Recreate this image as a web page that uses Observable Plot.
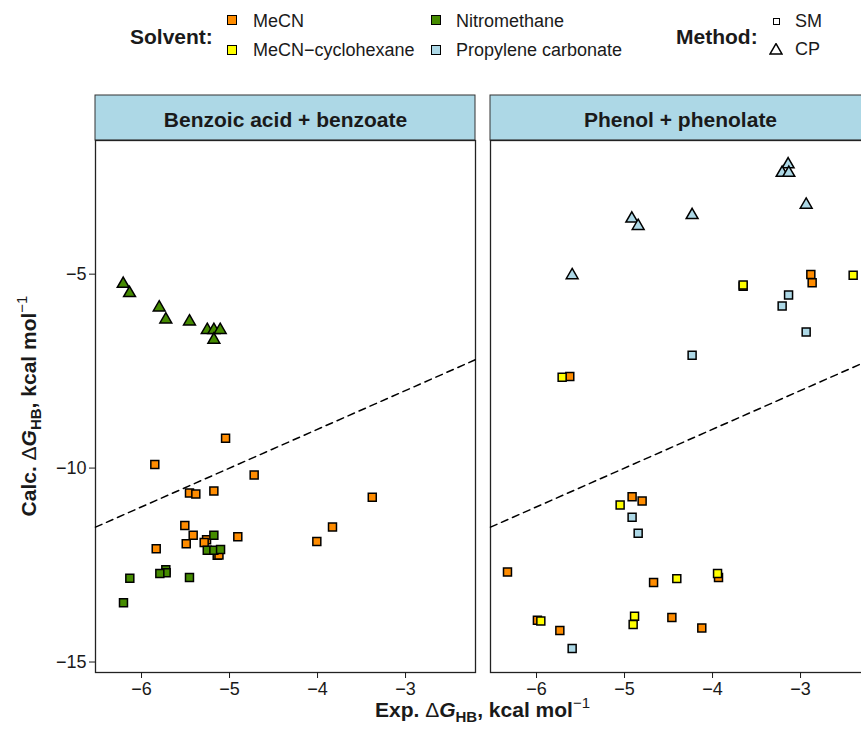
<!DOCTYPE html>
<html><head><meta charset="utf-8">
<script src="https://cdn.jsdelivr.net/npm/d3@7"></script>
<script src="https://cdn.jsdelivr.net/npm/@observablehq/plot@0.6"></script>
<style>
html,body{margin:0;padding:0;overflow:hidden;background:#fff;}
#fig{position:relative;width:873px;font-family:"Liberation Sans",Arial,Helvetica,sans-serif;color:#1a1a1a;}
#legend{position:relative;height:80px;}
.lt{position:absolute;font-size:21px;font-weight:bold;line-height:1;white-space:nowrap;}
.ll{position:absolute;font-size:18px;line-height:1;white-space:nowrap;}
.key{position:absolute;box-sizing:border-box;border:1.5px solid #000;width:10px;height:10px;}
.okey{position:absolute;box-sizing:border-box;border:1.5px solid #000;width:7px;height:7px;background:#fff;}
</style></head><body>
<div id="fig"><div id="legend"></div><div id="chart"></div></div>
<script>
// ---- data ----
const panels = ["Benzoic acid + benzoate", "Phenol + phenolate"];
const solvents = ["MeCN", "MeCN\u2212cyclohexane", "Nitromethane", "Propylene carbonate"];
const solventColors = ["#FF8C00", "#FFFF00", "#458B00", "#ADD8E6"];
const methods = ["SM", "CP"];
const xTicks = [-6, -5, -4, -3];
const yTicks = [-15, -10, -5];
const refSlope = 1, refIntercept = -5;

// [exp, calc] pairs
const benzoicMeCN_SM = [[-5.045,-9.23],[-5.849,-9.91],[-4.72,-10.18],[-5.455,-10.64],[-5.383,-10.67],[-5.178,-10.59],[-3.378,-10.75],[-5.508,-11.48],[-3.83,-11.52],[-5.413,-11.73],[-4.906,-11.77],[-5.261,-11.85],[-5.288,-11.92],[-5.492,-11.95],[-4.008,-11.89],[-5.833,-12.08],[-5.14,-12.25],[-5.12,-12.24]];
const benzoicNitro_SM = [[-5.178,-11.73],[-5.253,-12.12],[-5.178,-12.12],[-5.102,-12.10],[-5.724,-12.62],[-5.72,-12.70],[-5.792,-12.72],[-6.133,-12.84],[-5.455,-12.82],[-6.205,-13.47]];
const benzoicNitro_CP = [[-6.208,-5.25],[-6.136,-5.49],[-5.799,-5.86],[-5.724,-6.17],[-5.455,-6.22],[-5.253,-6.44],[-5.178,-6.44],[-5.106,-6.44],[-5.178,-6.69]];
const phenolMeCN_SM = [[-2.883,-5.01],[-2.868,-5.22],[-3.652,-5.31],[-5.622,-7.64],[-4.914,-10.74],[-4.80,-10.85],[-6.33,-12.68],[-4.67,-12.95],[-3.932,-12.82],[-4.462,-13.85],[-4.122,-14.12],[-5.99,-13.92],[-5.735,-14.19]];
const phenolCyclo_SM = [[-2.402,-5.03],[-3.652,-5.28],[-5.709,-7.66],[-5.05,-10.95],[-4.406,-12.85],[-3.943,-12.72],[-4.886,-13.82],[-4.902,-14.03],[-5.951,-13.94]];
const phenolPC_SM = [[-3.136,-5.54],[-3.209,-5.82],[-2.936,-6.49],[-4.232,-7.09],[-4.914,-11.27],[-4.845,-11.68],[-5.595,-14.65]];
const phenolPC_CP = [[-3.141,-2.17],[-3.209,-2.39],[-3.133,-2.39],[-2.936,-3.21],[-4.917,-3.57],[-4.845,-3.76],[-4.232,-3.48],[-5.595,-5.03]];

const xDomain = [-6.523, -2.205];
const yDomain = [-15.27, -1.554];

// ---- build table ----
function rowsOf(arr, panel, solvent, method) {
  return arr.map(([exp, calc]) => ({panel, solvent, method, exp, calc}));
}
const rows = [
  ...rowsOf(benzoicMeCN_SM, panels[0], solvents[0], methods[0]),
  ...rowsOf(benzoicNitro_SM, panels[0], solvents[2], methods[0]),
  ...rowsOf(benzoicNitro_CP, panels[0], solvents[2], methods[1]),
  ...rowsOf(phenolMeCN_SM, panels[1], solvents[0], methods[0]),
  ...rowsOf(phenolCyclo_SM, panels[1], solvents[1], methods[0]),
  ...rowsOf(phenolPC_SM, panels[1], solvents[3], methods[0]),
  ...rowsOf(phenolPC_CP, panels[1], solvents[3], methods[1])
];
const refLine = panels.flatMap(p => xDomain.map(x => ({panel: p, x, y: refSlope * x + refIntercept})));

// ---- layout ----
const ML = 95, PW = 380, GAP = 15, MR = 3, MT = 60, MB = 73, H = 665;
const W = ML + 2 * PW + GAP + MR;
const font = '"Liberation Sans",Arial,Helvetica,sans-serif';
const intFmt = d3.format("d");

const chart = Plot.plot({
  width: W, height: H,
  marginLeft: ML, marginRight: MR, marginTop: MT, marginBottom: MB,
  style: {fontFamily: font, color: "#1a1a1a", background: "transparent", overflow: "visible"},
  fx: {domain: panels, paddingInner: GAP / (PW + GAP), paddingOuter: 0, label: null},
  x: {domain: xDomain, label: null},
  y: {domain: yDomain, label: null},
  color: {domain: solvents, range: solventColors},
  marks: [
    Plot.frame({stroke: "#222", strokeWidth: 1.3}),
    Plot.axisFx({anchor: "top", tickSize: 0, tickPadding: 14, fontSize: 21, fontWeight: "bold", label: null}),
    Plot.axisX({ticks: xTicks, tickFormat: intFmt, tickSize: 6, tickPadding: 4, fontSize: 18, label: null}),
    Plot.axisY({ticks: yTicks, tickFormat: intFmt, tickSize: 6, tickPadding: 3, fontSize: 18, label: null}),
    Plot.line(refLine, {x: "x", y: "y", fx: "panel", stroke: "#000", strokeWidth: 1.5, strokeDasharray: "7,5"}),
    Plot.dot(rows.filter(d => d.method === "SM"), {x: "exp", y: "calc", fx: "panel", symbol: "square", r: 4.5, fill: "solvent", stroke: "#000", strokeWidth: 1.5}),
    Plot.dot(rows.filter(d => d.method === "CP"), {x: "exp", y: "calc", fx: "panel", symbol: "triangle", r: 4.4, fill: "solvent", stroke: "#000", strokeWidth: 1.5})
  ]
});

const svg = d3.select(chart);
// strip backgrounds behind facet labels
const strips = svg.insert("g", ":first-child");
panels.forEach((p, i) => {
  strips.append("rect")
    .attr("x", ML + i * (PW + GAP)).attr("y", MT - 45)
    .attr("width", PW).attr("height", 45)
    .attr("fill", "#ADD8E6").attr("stroke", "#333").attr("stroke-width", 1);
});

// axis titles
function title(g) {
  g.attr("font-family", font).attr("font-size", 21).attr("font-weight", "bold").attr("fill", "#1a1a1a").attr("text-anchor", "middle");
  return g;
}
function fillTitle(t, lead) {
  t.append("tspan").text(lead);
  t.append("tspan").attr("font-weight", "normal").text("\u0394");
  t.append("tspan").attr("font-style", "italic").text("G");
  t.append("tspan").attr("font-size", 15).attr("dy", 5).text("HB");
  t.append("tspan").attr("dy", -5).text(", kcal mol");
  t.append("tspan").attr("font-size", 15).attr("font-weight", "normal").attr("dy", -9).text("\u22121");
}
const xt = title(svg.append("text")).attr("x", ML + (2 * PW + GAP) / 2).attr("y", 637);
fillTitle(xt, "Exp. ");
const yt = title(svg.append("text")).attr("transform", `translate(36,${MT + (H - MB - MT) / 2}) rotate(-90)`);
fillTitle(yt, "Calc. ");

document.getElementById("chart").appendChild(chart);

// ---- legend (HTML) ----
const legend = document.getElementById("legend");
function add(cls, left, top, text, style) {
  const d = document.createElement("div");
  d.className = cls; d.style.left = left + "px"; d.style.top = top + "px";
  if (text) d.textContent = text;
  if (style) Object.assign(d.style, style);
  legend.appendChild(d);
  return d;
}
add("lt", 130, 26, "Solvent:");
const keyPos = [[227, 14.5, 253, 11.5], [227, 45, 253, 41], [431, 14.5, 456, 11.5], [431, 45, 456, 41]];
solvents.forEach((s, i) => {
  const [kx, ky, tx, ty] = keyPos[i];
  add("key", kx, ky, null, {background: solventColors[i]});
  add("ll", tx, ty, s);
});
add("lt", 676, 26, "Method:");
add("okey", 772.5, 17.5, null);
add("ll", 795, 11.5, methods[0]);
const tri = document.createElementNS("http://www.w3.org/2000/svg", "svg");
tri.setAttribute("width", 14); tri.setAttribute("height", 13);
tri.style.position = "absolute"; tri.style.left = "769px"; tri.style.top = "42.5px";
d3.select(tri).append("path").attr("d", d3.symbol(d3.symbolTriangle, Math.PI * 4.4 * 4.4)()).attr("transform", "translate(7,7.5)")
  .attr("fill", "none").attr("stroke", "#000").attr("stroke-width", 1.5);
legend.appendChild(tri);
add("ll", 795, 40, methods[1]);
</script>
</body></html>
